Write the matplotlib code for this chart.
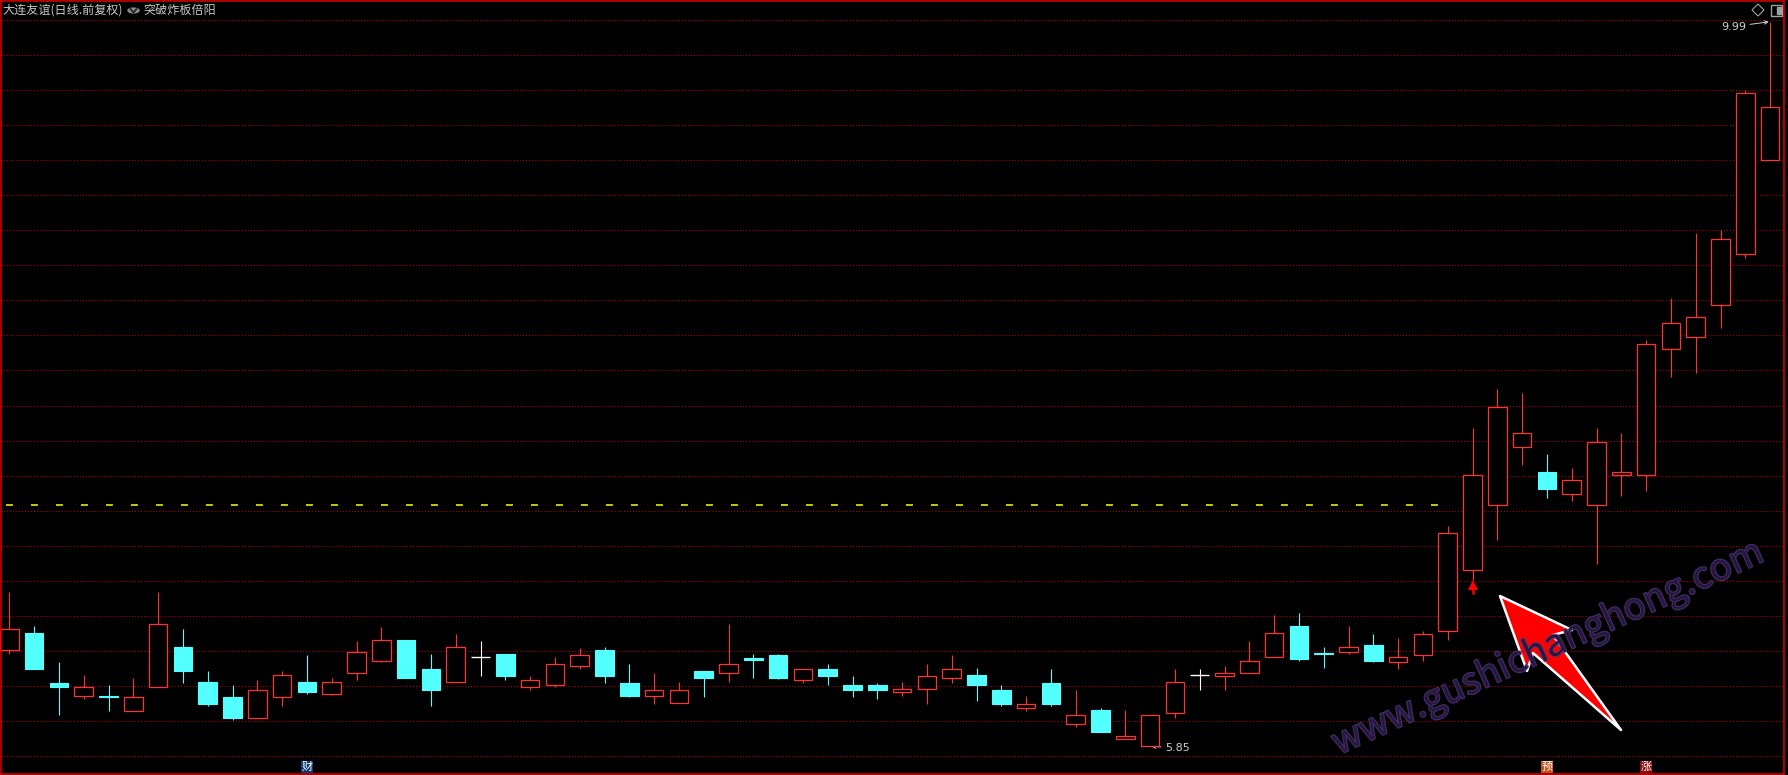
import numpy as np
import matplotlib
matplotlib.use('Agg')
import matplotlib.pyplot as plt
from matplotlib.patches import Rectangle, Polygon, Circle
from matplotlib.lines import Line2D
import matplotlib.transforms as mtransforms
import matplotlib.patheffects as pe

plt.rcParams['font.family'] = ['Noto Sans CJK SC', 'DejaVu Sans']
plt.rcParams['lines.scale_dashes'] = False

# daily K-line of 大连友谊
opens = [6.40, 6.50, 6.21, 6.14, 6.14, 6.05, 6.19, 6.42, 6.22, 6.13,
         6.01, 6.13, 6.22, 6.15, 6.27, 6.34, 6.46, 6.29, 6.22, 6.36,
         6.38, 6.19, 6.20, 6.31, 6.40, 6.21, 6.14, 6.10, 6.28, 6.27,
         6.355, 6.37, 6.23, 6.29, 6.20, 6.20, 6.16, 6.18, 6.24, 6.26,
         6.17, 6.07, 6.21, 5.98, 6.06, 5.89, 5.85, 6.04, 6.26, 6.25,
         6.27, 6.36, 6.54, 6.385, 6.39, 6.43, 6.33, 6.37, 6.51, 6.86,
         7.23, 7.56, 7.42, 7.29, 7.23, 7.40, 7.40, 8.12, 8.19, 8.37,
         8.66, 9.20]
highs = [6.73, 6.54, 6.33, 6.26, 6.20, 6.24, 6.73, 6.52, 6.28, 6.20,
         6.23, 6.28, 6.37, 6.24, 6.45, 6.53, 6.46, 6.38, 6.49, 6.45,
         6.38, 6.25, 6.36, 6.41, 6.42, 6.32, 6.27, 6.22, 6.28, 6.55,
         6.38, 6.38, 6.29, 6.32, 6.25, 6.21, 6.22, 6.32, 6.37, 6.30,
         6.20, 6.14, 6.29, 6.17, 6.07, 6.06, 6.03, 6.29, 6.29, 6.31,
         6.45, 6.60, 6.61, 6.42, 6.54, 6.49, 6.47, 6.51, 7.11, 7.67,
         7.89, 7.87, 7.52, 7.44, 7.67, 7.64, 8.17, 8.41, 8.78, 8.80,
         9.60, 9.99]
lows = [6.38, 6.29, 6.03, 6.12, 6.05, 6.05, 6.19, 6.21, 6.08, 6.00,
        6.01, 6.08, 6.15, 6.145, 6.23, 6.33, 6.24, 6.08, 6.22, 6.25,
        6.23, 6.17, 6.19, 6.29, 6.21, 6.13, 6.09, 6.10, 6.13, 6.22,
        6.24, 6.235, 6.21, 6.20, 6.13, 6.12, 6.14, 6.09, 6.21, 6.11,
        6.08, 6.05, 6.08, 5.96, 5.93, 5.89, 5.85, 6.01, 6.17, 6.17,
        6.27, 6.36, 6.34, 6.30, 6.38, 6.33, 6.29, 6.34, 6.46, 6.80,
        7.03, 7.46, 7.27, 7.25, 6.89, 7.28, 7.31, 7.96, 7.98, 8.24,
        8.64, 9.20]
closes = [6.52, 6.29, 6.19, 6.19, 6.13, 6.13, 6.55, 6.28, 6.09, 6.01,
          6.17, 6.26, 6.16, 6.22, 6.39, 6.46, 6.24, 6.17, 6.42, 6.36,
          6.25, 6.23, 6.32, 6.37, 6.25, 6.14, 6.17, 6.17, 6.24, 6.32,
          6.343, 6.24, 6.29, 6.25, 6.17, 6.17, 6.18, 6.25, 6.29, 6.20,
          6.09, 6.09, 6.09, 6.03, 5.93, 5.91, 6.03, 6.22, 6.26, 6.27,
          6.34, 6.50, 6.35, 6.38, 6.42, 6.34, 6.36, 6.49, 7.07, 7.40,
          7.79, 7.64, 7.32, 7.37, 7.59, 7.415, 8.15, 8.27, 8.30, 8.75,
          9.58, 9.50]

pressure_level = 7.227      # yellow dashed line
pressure_end = 58.2
signal_idx = 59             # red up arrow
max_idx, min_idx = 71, 46
flag_idx = [12, 62, 66]
flag_text = ['财', '预', '涨']
flag_bg = ['#0e3c72', '#c4501a', '#8a0a0a']

W, H = 1788, 775
fig = plt.figure(figsize=(W / 100, H / 100), dpi=100, facecolor='black')
ax = fig.add_axes([0, 0, 1, 1], facecolor='black')
ax.set_axis_off()
n = len(opens)
ax.set_xlim(-0.375, 71.72)
ax.set_ylim(5.686, 10.114)

RED = '#ff3232'
CYAN = '#54ffff'
grid_levels = 5.793 + 0.2004 * np.arange(22)
for g in grid_levels:
    ax.axhline(g, xmax=1783 / W, color='#b80000', lw=0.75, ls=(0, (0.75, 1.45)), zorder=1)

ax.plot([-0.375, pressure_end], [pressure_level] * 2, color='#ffff00', lw=1.1,
        ls=(13.7, (5.0, 13.0)), zorder=2)

bw = 0.75
for i in range(n):
    o, h, l, c = opens[i], highs[i], lows[i], closes[i]
    if c > o:
        ax.vlines(i, c, h, color=RED, lw=0.8, zorder=3)
        ax.vlines(i, l, o, color=RED, lw=0.8, zorder=3)
        ax.add_patch(Rectangle((i - bw / 2, o), bw, c - o, facecolor='black',
                               edgecolor=RED, lw=0.9, zorder=4))
    elif c < o:
        ax.vlines(i, l, h, color=CYAN, lw=0.8, zorder=3)
        ax.add_patch(Rectangle((i - bw / 2, c), bw, o - c, facecolor=CYAN,
                               edgecolor=CYAN, lw=0.8, zorder=4))
    else:
        ax.vlines(i, l, h, color='white', lw=0.8, zorder=3)
        ax.hlines(o, i - bw / 2, i + bw / 2, color='white', lw=1.0, zorder=4)

# signal arrow under the breakout candle
sl = lows[signal_idx]
ax.vlines(signal_idx, sl - 0.078, sl - 0.03, color='#ff0000', lw=1.8, zorder=5)
ax.plot([signal_idx], [sl - 0.027], marker='^', ms=6.5, color='#ff0000', mew=0, zorder=5)

ax.annotate('%.2f' % highs[max_idx], xy=(max_idx, highs[max_idx]),
            xytext=(-17.5, -3.5), textcoords='offset points', ha='right', va='center',
            color='#d0d0d0', fontsize=8, family='DejaVu Sans',
            arrowprops=dict(arrowstyle='->,head_width=0.15,head_length=0.3',
                            color='#d0d0d0', lw=0.7, shrinkA=1, shrinkB=1))
ax.annotate('%.2f' % lows[min_idx], xy=(min_idx, lows[min_idx]),
            xytext=(10.8, -1.2), textcoords='offset points', ha='left', va='center',
            color='#d0d0d0', fontsize=8, family='DejaVu Sans',
            arrowprops=dict(arrowstyle='->,head_width=0.15,head_length=0.3',
                            color='#d0d0d0', lw=0.7, shrinkA=1, shrinkB=1))

trans = mtransforms.blended_transform_factory(ax.transData, ax.transAxes)
for i, t, bg in zip(flag_idx, flag_text, flag_bg):
    ax.text(i, 1 - 767 / H, t, transform=trans, ha='center', va='center',
            color='white', fontsize=8,
            bbox=dict(boxstyle='square,pad=0.05', fc=bg, ec='none'), zorder=6)


def px(x, y):
    return (x / W, 1 - y / H)


# border
for seg in [((0.5, 0.5), (1783.5, 0.5)), ((0.5, 773.5), (1783.5, 773.5)),
            ((1783.5, 0.5), (1783.5, 773.5)), ((0.5, 0.5), (0.5, 773.5))]:
    (x0, y0), (x1, y1) = seg
    fig.add_artist(Line2D([x0 / W, x1 / W], [1 - y0 / H, 1 - y1 / H],
                          color='#e00000', lw=1.1, transform=fig.transFigure))

# header
fig.text(*px(2, 10.5), '大连友谊(日线.前复权)', color='#c8c8c8', fontsize=8.7, va='center')
fig.add_artist(Circle(px(133.5, 10.5), 5.5 / W, color='#8a8a8a',
                      transform=fig.transFigure))
fig.add_artist(Line2D([130.5 / W, 133.5 / W, 136.5 / W],
                      [1 - 9 / H, 1 - 12.5 / H, 1 - 9 / H], color='#202020', lw=1.2,
                      transform=fig.transFigure))
fig.text(*px(143, 10.5), '突破炸板倍阳', color='#c8c8c8', fontsize=8.7, va='center')

# top-right icons
fig.add_artist(Polygon([px(1758, 4), px(1764, 10), px(1758, 16), px(1752, 10)],
                       closed=True, fill=False, ec='#a0a0a0', lw=0.8,
                       transform=fig.transFigure))
fig.add_artist(Rectangle(px(1771, 16), 11 / W, 11 / H, fill=False, ec='#a0a0a0',
                         lw=1.0, transform=fig.transFigure))
fig.add_artist(Rectangle(px(1777, 14), 4 / W, 7 / H, color='#a0a0a0',
                         transform=fig.transFigure))

# big red pointer
fig.add_artist(Polygon([px(1500, 596), px(1572, 630), px(1553, 635), px(1621, 730),
                        px(1533, 653), px(1527, 671)], closed=True,
                       fc='#ff0000', ec='white', lw=1.8, joinstyle='round',
                       transform=fig.transFigure, zorder=7))

# watermark
fig.text(*px(1548, 648), 'www.gushichanghong.com', rotation=24.5, ha='center',
         va='center', fontsize=26.5, color='#28143e', alpha=0.85, zorder=8,
         path_effects=[pe.withStroke(linewidth=1.4, foreground='#4a3a78')])

plt.savefig('out.png', dpi=100, facecolor='black')
